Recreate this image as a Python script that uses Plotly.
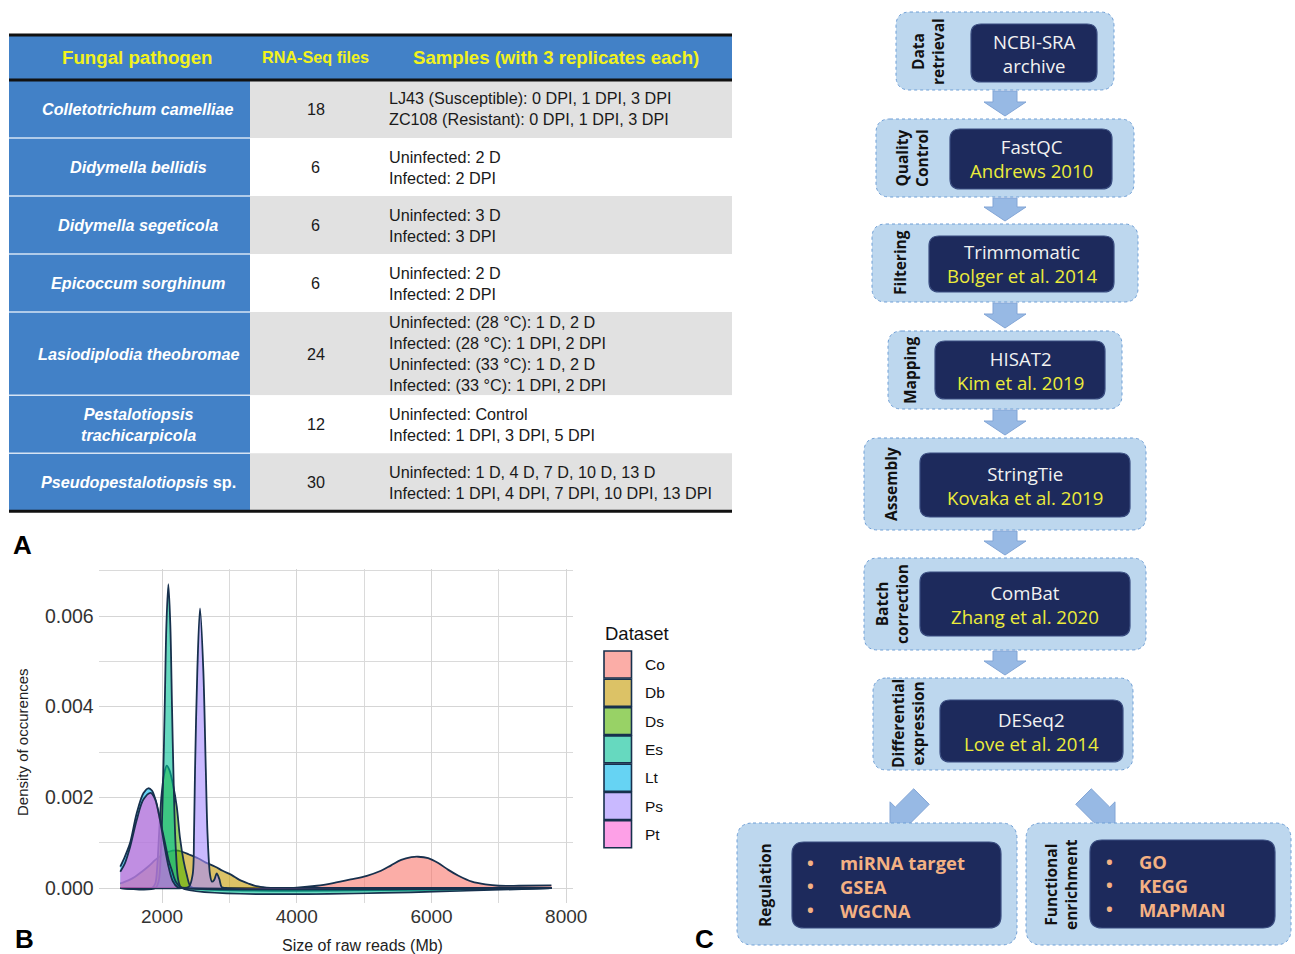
import math
import plotly.graph_objects as go

W, H = 1295, 954

# ------------------------------------------------------------------ data
# Panel A - table
pathogen_lines = [["Colletotrichum camelliae"], ["Didymella bellidis"], ["Didymella segeticola"],
                  ["Epicoccum sorghinum"], ["Lasiodiplodia theobromae"],
                  ["Pestalotiopsis", "trachicarpicola"], ["Pseudopestalotiopsis sp."]]
rnaseq_files = [18, 6, 6, 6, 24, 12, 30]
samples = [
    ["LJ43 (Susceptible): 0 DPI, 1 DPI, 3 DPI", "ZC108 (Resistant): 0 DPI, 1 DPI, 3 DPI"],
    ["Uninfected: 2 D", "Infected: 2 DPI"],
    ["Uninfected: 3 D", "Infected: 3 DPI"],
    ["Uninfected: 2 D", "Infected: 2 DPI"],
    ["Uninfected: (28 °C): 1 D, 2 D", "Infected: (28 °C): 1 DPI, 2 DPI",
     "Uninfected: (33 °C): 1 D, 2 D", "Infected: (33 °C): 1 DPI, 2 DPI"],
    ["Uninfected: Control", "Infected: 1 DPI, 3 DPI, 5 DPI"],
    ["Uninfected: 1 D, 4 D, 7 D, 10 D, 13 D", "Infected: 1 DPI, 4 DPI, 7 DPI, 10 DPI, 13 DPI"],
]
table_headers = ["Fungal pathogen", "RNA-Seq files", "Samples (with 3 replicates each)"]

# Panel B - density curves
datasets = ["Co", "Db", "Ds", "Es", "Lt", "Ps", "Pt"]
co_mb = [1380, 3700, 4000, 4300, 4540, 4800, 5040, 5250, 5400, 5550, 5700, 5800, 5950, 6100, 6250, 6400, 6600, 6800, 7000, 7300, 7780]
co_density = [0, 0, 0.00001, 0.00005, 0.00011, 0.00019, 0.00027, 0.00038, 0.0005, 0.00062, 0.00068, 0.00069, 0.00066, 0.00055, 0.0004, 0.00027, 0.00014, 0.00008, 0.00005, 0.00005, 0.00006]
db_mb = [1380, 1500, 1600, 1700, 1800, 1900, 2000, 2100, 2200, 2300, 2400, 2540, 2650, 2790, 2900, 3030, 3150, 3280, 3400, 3550, 3700, 7780]
db_density = [0.0001, 0.00017, 0.00025, 0.00036, 0.00048, 0.00062, 0.00073, 0.0008, 0.00083, 0.0008, 0.00074, 0.00065, 0.00056, 0.00047, 0.00038, 0.00029, 0.00018, 0.0001, 0.00004, 0.00001, 0, 0]
ds_mb = [1380, 1850, 1900, 1930, 1960, 1990, 2030, 2070, 2110, 2160, 2218, 2267, 2320, 2366, 2416, 2470, 7780]
ds_density = [0, 0, 0.0001, 0.0005, 0.0013, 0.002, 0.0025, 0.0027, 0.0026, 0.0023, 0.0018, 0.0011, 0.0006, 0.0003, 0.00005, 0, 0]
es_mb = [1380, 1900, 1950, 1985, 2015, 2040, 2065, 2094, 2123, 2148, 2173, 2203, 2245, 2295, 7780]
es_density = [0, 0, 0.00015, 0.0009, 0.0023, 0.004, 0.0058, 0.0067, 0.0058, 0.004, 0.0023, 0.0009, 0.00015, 0, 0]
lt_mb = [1380, 1450, 1525, 1624, 1723, 1797, 1850, 1896, 1970, 2045, 2100, 2144, 2200, 2267, 2350, 7780]
lt_density = [0.00047, 0.0007, 0.00099, 0.00165, 0.00209, 0.0022, 0.00215, 0.00198, 0.0015, 0.00099, 0.0006, 0.0004, 0.00015, 0.00003, 0, 0]
ps_mb = [1380, 2300, 2400, 2455, 2475, 2490, 2524, 2564, 2613, 2650, 2675, 2712, 2740, 2775, 2811, 2850, 2886, 2950, 7780]
ps_density = [0, 0, 0.00003, 0.0003, 0.0012, 0.0026, 0.0048, 0.00617, 0.0048, 0.0026, 0.0012, 0.0003, 0.00014, 0.00018, 0.00032, 0.0002, 0.00002, 0, 0]
pt_mb = [1380, 1450, 1525, 1624, 1723, 1832, 1900, 1970, 2040, 2100, 2160, 2230, 2300, 7780]
pt_density = [0.00036, 0.00055, 0.0009, 0.0015, 0.00195, 0.0021, 0.00195, 0.0015, 0.0009, 0.00045, 0.00015, 0.00002, 0, 0]
x_ticks = [2000, 4000, 6000, 8000]
y_ticks = [0, 0.002, 0.004, 0.006]

# Panel C - pipeline
step_labels = ["Data<br>retrieval", "Quality<br>Control", "Filtering", "Mapping", "Assembly",
               "Batch<br>correction", "Differential<br>expression"]
step_tools = ["NCBI-SRA", "FastQC", "Trimmomatic", "HISAT2", "StringTie", "ComBat", "DESeq2"]
step_refs = ["archive", "Andrews 2010", "Bolger et al. 2014", "Kim et al. 2019",
             "Kovaka et al. 2019", "Zhang et al. 2020", "Love et al. 2014"]
branch_labels = ["Regulation", "Functional<br>enrichment"]
branch_items = [["miRNA target", "GSEA", "WGCNA"], ["GO", "KEGG", "MAPMAN"]]

# ------------------------------------------------------------------ helpers
def X(p):
    return p / W

def Y(p):
    return 1 - p / H

shapes = []
annotations = []

def add_rect(x0, y0, x1, y1, fill, layer="below"):
    shapes.append(dict(type="rect", xref="paper", yref="paper", x0=X(x0), x1=X(x1),
                       y0=Y(y1), y1=Y(y0), fillcolor=fill, line=dict(width=0), layer=layer))

def add_line(x0, y0, x1, y1, color, width, layer="above"):
    shapes.append(dict(type="line", xref="paper", yref="paper", x0=X(x0), x1=X(x1),
                       y0=Y(y0), y1=Y(y1), line=dict(color=color, width=width), layer=layer))

def add_text(x, y, text, size, color, family="Arial", xanchor="center", angle=0, bold=False,
             italic=False, align="center"):
    t = text
    if italic:
        t = "<i>" + t + "</i>"
    if bold:
        t = "<b>" + t + "</b>"
    annotations.append(dict(xref="paper", yref="paper", x=X(x), y=Y(y), text=t, showarrow=False,
                            xanchor=xanchor, yanchor="middle", textangle=angle, align=align,
                            font=dict(size=size, color=color, family=family)))

def rrect_path(x0, y0, x1, y1, r):
    return (f"M {X(x0 + r)},{Y(y0)} L {X(x1 - r)},{Y(y0)} Q {X(x1)},{Y(y0)} {X(x1)},{Y(y0 + r)} "
            f"L {X(x1)},{Y(y1 - r)} Q {X(x1)},{Y(y1)} {X(x1 - r)},{Y(y1)} "
            f"L {X(x0 + r)},{Y(y1)} Q {X(x0)},{Y(y1)} {X(x0)},{Y(y1 - r)} "
            f"L {X(x0)},{Y(y0 + r)} Q {X(x0)},{Y(y0)} {X(x0 + r)},{Y(y0)} Z")

def add_rrect(x0, y0, x1, y1, r, fill, line_color, line_width, dash="solid"):
    shapes.append(dict(type="path", xref="paper", yref="paper", path=rrect_path(x0, y0, x1, y1, r),
                       fillcolor=fill, line=dict(color=line_color, width=line_width, dash=dash),
                       layer="below"))

def add_poly(pts, fill, line_color):
    path = "M " + " L ".join(f"{X(a)},{Y(b)}" for a, b in pts) + " Z"
    shapes.append(dict(type="path", xref="paper", yref="paper", path=path, fillcolor=fill,
                       line=dict(color=line_color, width=1), layer="below"))

# ------------------------------------------------------------------ Panel A: table
BLUE = "#4281c7"
GREY = "#e1e1e1"
YEL = "#f2f21c"
TXT = 16.2
col_x = [9, 250, 381, 732]
head_top, head_bot = 35, 80
add_rect(col_x[0], head_top, col_x[3], head_bot, BLUE)
head_cx = [137, 315.5, 556]
head_sz = [18.7, 16.2, 18.6]
for hx, ht, hs in zip(head_cx, table_headers, head_sz):
    add_text(hx, (head_top + head_bot) / 2, ht, hs, YEL, bold=True)

y_cur = head_bot
row_bounds = []
for i, name_lines in enumerate(pathogen_lines):
    nl = len(samples[i])
    rh = max(58, 20.8 * nl)
    y0, y1 = y_cur, y_cur + rh
    row_bounds.append((y0, y1))
    add_rect(col_x[0], y0, col_x[1], y1, BLUE)
    add_rect(col_x[1], y0, col_x[3], y1, GREY if i % 2 == 0 else "#ffffff")
    cy = (y0 + y1) / 2
    parts = []
    for ln in name_lines:
        if ln.endswith(" sp."):
            parts.append("<b><i>" + ln[:-4] + "</i> sp.</b>")
        else:
            parts.append("<b><i>" + ln + "</i></b>")
    add_text(138, cy, "<br>".join(parts), TXT, "#ffffff")
    add_text(315.5, cy, str(rnaseq_files[i]), TXT, "#1a1a1a")
    add_text(387, cy, "<br>".join(samples[i]), TXT, "#1a1a1a", xanchor="left", align="left")
    y_cur = y1

for (y0, y1) in row_bounds[1:]:
    add_line(col_x[0], y0, col_x[1], y0, "#d6e4f4", 1.5)
add_line(col_x[0], head_top, col_x[3], head_top, "#111111", 3)
add_line(col_x[0], head_bot, col_x[3], head_bot, "#111111", 3)
add_line(col_x[0], y_cur, col_x[3], y_cur, "#111111", 3)

# panel letters
add_text(22, 545, "A", 26, "#000000", bold=True)
add_text(24, 939, "B", 26, "#000000", bold=True)
add_text(704, 939, "C", 26, "#000000", bold=True)

# ------------------------------------------------------------------ Panel B: density
NAVY = "#17304d"
base_cols = {"Co": (248, 118, 109), "Db": (196, 154, 0), "Ds": (83, 180, 0), "Es": (0, 192, 148),
             "Lt": (0, 182, 235), "Ps": (165, 138, 255), "Pt": (251, 97, 215)}
ALPHA = 0.6
curves = [(co_mb, co_density), (db_mb, db_density), (ds_mb, ds_density), (es_mb, es_density),
          (lt_mb, lt_density), (ps_mb, ps_density), (pt_mb, pt_density)]

fig = go.Figure()
for name, (xs, ys) in zip(datasets, curves):
    r, g, b = base_cols[name]
    fig.add_trace(go.Scatter(
        x=xs, y=ys, mode="lines", name=name, showlegend=False, hoverinfo="skip",
        line=dict(color=NAVY, width=1.8, shape="spline", smoothing=0.9),
        fill="tozeroy", fillcolor=f"rgba({r},{g},{b},{ALPHA})"))

x_px0, x_px1 = 98.7, 573
y_px0, y_px1 = 569.3, 903.2
fig.update_xaxes(domain=[X(x_px0), X(x_px1)], range=[1060, 8100], tickvals=x_ticks,
                 showgrid=True, gridcolor="#d5d5d5", gridwidth=1.3, zeroline=False, showline=False,
                 ticks="", tickfont=dict(size=19, color="#333333", family="Arial"),
                 minor=dict(dtick=1000, tick0=0, showgrid=True, gridcolor="#dadada", gridwidth=1.1),
                 fixedrange=True, automargin=False)
fig.update_yaxes(domain=[Y(y_px1), Y(y_px0)], range=[-0.000335, 0.00703], tickvals=y_ticks,
                 tickformat=".3f", showgrid=True, gridcolor="#d5d5d5", gridwidth=1.3, zeroline=False,
                 showline=False, ticks="", ticklabelstandoff=4,
                 tickfont=dict(size=19.5, color="#333333", family="Arial"),
                 minor=dict(dtick=0.001, tick0=0, showgrid=True, gridcolor="#dadada", gridwidth=1.1),
                 fixedrange=True, automargin=False)

add_text(362, 945, "Size of raw reads (Mb)", 16, "#222222")
add_text(22, 742, "Density of occurences", 15, "#222222", angle=-90)

# legend (manual, ggplot style)
add_text(603, 633, "Dataset", 18.5, "#111111", xanchor="left")
for i, name in enumerate(datasets):
    r, g, b = base_cols[name]
    top = 651 + i * 28.3
    rf, gf, bf = [round(ALPHA * c + (1 - ALPHA) * 255) for c in (r, g, b)]
    shapes.append(dict(type="rect", xref="paper", yref="paper", x0=X(604), x1=X(631.5),
                       y0=Y(top + 27), y1=Y(top), fillcolor=f"rgb({rf},{gf},{bf})",
                       line=dict(color=NAVY, width=1.6), layer="above"))
    add_text(643, top + 13.5, name, 15.5, "#111111", xanchor="left")

# ------------------------------------------------------------------ Panel C: pipeline
OUT_FILL = "#bdd7ee"
OUT_LINE = "#6f9fd6"
IN_FILL = "#1d2a5c"
IN_LINE = "#3a4d80"
ARROW = "#97b9e4"
ARROW_LINE = "#82a5d6"
CIT = "#ecec3a"
WHITE_T = "#f2f2f2"
ORANGE = "#f4b183"
FF = "Open Sans"

outer_boxes = [(896, 12, 1114, 90), (876, 119, 1134, 197), (872, 224, 1138, 302),
               (888, 331, 1122, 409), (864, 438, 1146, 530), (864, 558, 1146, 650),
               (873, 678, 1133, 770)]
inner_boxes = [(971, 24, 1097, 82), (950, 129, 1112, 189), (929, 236, 1114, 292),
               (935, 341, 1105, 399), (920, 453, 1130, 517), (920, 572, 1130, 636),
               (940, 700, 1123, 762)]
label_x = [928, 912, 900, 910, 891, 892, 908]

for i, (ob, ib) in enumerate(zip(outer_boxes, inner_boxes)):
    add_rrect(*ob, 14, OUT_FILL, OUT_LINE, 1, dash="dot")
    add_rrect(*ib, 10, IN_FILL, IN_LINE, 1.2)
    cy = (ob[1] + ob[3]) / 2
    add_text(label_x[i], cy, step_labels[i], 15.5, "#111111", family=FF, angle=-90, bold=True)
    icx = (ib[0] + ib[2]) / 2
    icy = (ib[1] + ib[3]) / 2
    ref_col = WHITE_T if i == 0 else CIT
    txt = (f"<span style='color:{WHITE_T}'>{step_tools[i]}</span><br>"
           f"<span style='color:{ref_col}'>{step_refs[i]}</span>")
    add_text(icx, icy, txt, 18.6, WHITE_T, family=FF)
    # arrow to next box
    if i < len(outer_boxes) - 1:
        cx = 1005
        t = ob[3] + 1
        nxt = outer_boxes[i + 1][1]
        tip = nxt - 3
        hs = tip - 14
        add_poly([(cx - 12, t), (cx + 12, t), (cx + 12, hs), (cx + 21, hs), (cx, tip),
                  (cx - 21, hs), (cx - 12, hs)], ARROW, ARROW_LINE)

# diagonal arrows
def diag_arrow(tipx, tipy, dx, dy):
    n = math.hypot(dx, dy)
    ux, uy = dx / n, dy / n
    px_, py_ = -uy, ux
    hl, hw, sw, sl = 18.5, 18.5, 11, 26
    bx, by = tipx - ux * hl, tipy - uy * hl
    ex, ey = bx - ux * sl, by - uy * sl
    pts = [(tipx, tipy), (bx + px_ * hw, by + py_ * hw), (bx + px_ * sw, by + py_ * sw),
           (ex + px_ * sw, ey + py_ * sw), (ex - px_ * sw, ey - py_ * sw),
           (bx - px_ * sw, by - py_ * sw), (bx - px_ * hw, by - py_ * hw)]
    add_poly(pts, ARROW, ARROW_LINE)

diag_arrow(890, 828, -1, 1)
diag_arrow(1115, 828, 1, 1)

branch_outer = [(737, 823, 1017, 945), (1026, 823, 1291, 945)]
branch_inner = [(792, 842, 1001, 928), (1090, 840, 1275, 928)]
branch_label_x = [765, 1061]
bullet_x = [810, 1109]
item_x = [838, 1137]
item_cy = [886, 885]
for j in range(2):
    add_rrect(*branch_outer[j], 16, OUT_FILL, OUT_LINE, 1, dash="dot")
    add_rrect(*branch_inner[j], 12, IN_FILL, IN_LINE, 1.2)
    add_text(branch_label_x[j], 885, branch_labels[j], 15.5, "#111111", family=FF, angle=-90, bold=True)
    n_it = len(branch_items[j])
    add_text(bullet_x[j], item_cy[j], "<br>".join(["•"] * n_it), 18, ORANGE, family=FF, bold=True)
    add_text(item_x[j], item_cy[j], "<br>".join(branch_items[j]), 18.4, ORANGE, family=FF,
             xanchor="left", align="left", bold=True)

fig.update_layout(width=W, height=H, autosize=False, margin=dict(l=0, r=0, t=0, b=0, pad=0),
                  paper_bgcolor="white", plot_bgcolor="white", showlegend=False,
                  shapes=shapes, annotations=annotations,
                  font=dict(family="Arial", color="#222222"))

fig.write_html("out.html", include_plotlyjs=True, config={"displayModeBar": False},
               post_script="document.body.style.margin='0';document.body.style.overflow='hidden';")
